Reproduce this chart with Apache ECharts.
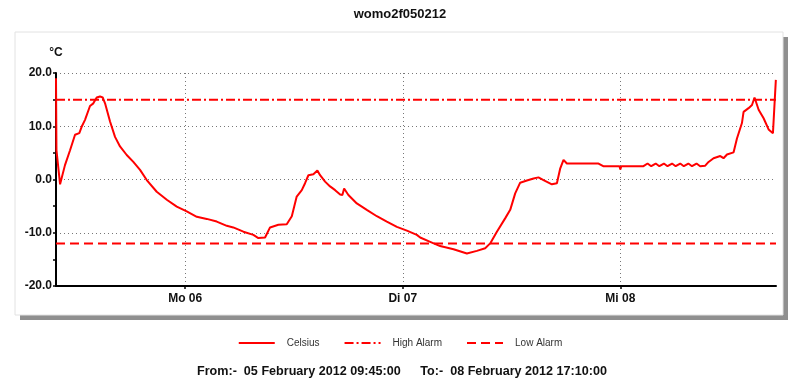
<!DOCTYPE html>
<html>
<head>
<meta charset="utf-8">
<script src="https://cdn.jsdelivr.net/npm/echarts@6/dist/echarts.min.js"></script>
<style>html,body{margin:0;padding:0;background:#fff;}#c{width:800px;height:392px;}</style>
</head>
<body>
<div id="c"></div>
<script>
// hours since 2012-02-05 00:00
var startHour = 9.75;   // 05 Feb 09:45
var endHour = 89.1667;  // 08 Feb 17:10
var dayTicks = [24, 48, 72];
var dayLabels = ['Mo 06', 'Di 07', 'Mi 08'];
var highAlarm = 15;
var lowAlarm = -12;
var celsius = [
[9.75,19.0],[9.8,5.5],[10.2,-0.9],[10.74,2.7],[11.3,5.5],[11.85,8.4],[12.32,8.7],[12.58,9.9],[12.95,11.2],[13.1,11.5],[13.5,13.8],[13.87,14.3],[14.24,15.4],[14.6,15.6],[14.9,15.4],[15.16,14.3],[15.71,10.9],[16.26,8.0],[16.81,6.2],[17.55,4.6],[18.28,3.3],[19.02,1.8],[19.76,-0.1],[20.86,-2.3],[21.97,-3.8],[23.07,-5.1],[24.17,-6.0],[25.28,-7.0],[26.38,-7.4],[27.48,-7.9],[28.59,-8.7],[29.3,-9.0],[30.42,-9.8],[31.52,-10.4],[32.07,-11.0],[32.81,-10.9],[33.36,-9.0],[34.28,-8.5],[35.2,-8.4],[35.76,-6.9],[36.3,-3.2],[36.86,-2.0],[37.22,-0.7],[37.59,0.8],[38.14,1.0],[38.58,1.7],[38.88,0.8],[39.43,-0.4],[39.98,-1.3],[40.54,-2.0],[41.09,-2.8],[41.34,-2.9],[41.53,-1.7],[42.0,-2.9],[42.93,-4.5],[44.03,-5.7],[45.14,-6.9],[46.24,-7.9],[47.35,-8.9],[48.45,-9.6],[49.55,-10.4],[49.92,-10.9],[51.02,-11.7],[52.12,-12.5],[53.6,-13.1],[55.07,-13.9],[56.17,-13.4],[57.09,-12.9],[57.64,-12.0],[58.38,-9.8],[59.29,-7.3],[59.85,-5.7],[60.4,-2.6],[60.95,-0.6],[61.69,-0.2],[62.43,0.2],[62.97,0.4],[63.52,-0.1],[64.45,-0.9],[65.0,-0.7],[65.37,2.1],[65.73,3.7],[66.1,3.0],[69.59,3.0],[70.11,2.5],[71.9,2.5],[72.0,1.9],[72.1,2.5],[74.55,2.5],[75.0,3.0],[75.4,2.5],[75.9,3.0],[76.3,2.5],[76.8,3.0],[77.2,2.5],[77.7,3.0],[78.1,2.5],[78.6,3.0],[79.0,2.5],[79.5,3.0],[79.9,2.5],[80.4,3.0],[80.8,2.5],[81.36,2.6],[81.73,3.3],[82.28,4.0],[83.02,4.4],[83.38,4.0],[83.76,4.7],[84.49,5.1],[84.86,7.7],[85.41,10.6],[85.59,12.7],[86.14,13.4],[86.52,14.0],[86.8,15.4],[87.25,13.1],[87.8,11.5],[88.35,9.4],[88.83,8.7],[89.05,8.5],[89.15,18.7]
];
var titleText = 'womo2f050212';
var fromText = 'From:-  05 February 2012 09:45:00';
var toText = 'To:-  08 February 2012 17:10:00';

var chart = echarts.init(document.getElementById('c'), null, {renderer: 'canvas'});
var FONT = 'Liberation Sans, Arial, sans-serif';
chart.setOption({
  animation: false,
  backgroundColor: '#fff',
  title: {
    text: titleText, left: 'center', top: 3,
    textStyle: {fontFamily: FONT, fontSize: 13, fontWeight: 'bold', color: '#111'}
  },
  graphic: [
    {type: 'rect', z: -10, shape: {x: 20, y: 37, width: 768, height: 283}, style: {fill: '#8f8f8f'}, silent: true},
    {type: 'rect', z: -9, shape: {x: 15, y: 32, width: 768, height: 283}, style: {fill: '#fff', stroke: '#e2e2e2', lineWidth: 1}, silent: true},
    {type: 'text', left: 197, top: 365, style: {text: fromText, font: 'bold 12.6px ' + FONT, fill: '#111'}},
    {type: 'text', right: 193, top: 365, style: {text: toText, font: 'bold 12.6px ' + FONT, fill: '#111'}}
  ],
  legend: {
    left: 'center', top: 333,
    itemWidth: 36, itemHeight: 10, itemGap: 24,
    itemStyle: {opacity: 0},
    textStyle: {fontFamily: FONT, fontSize: 10, color: '#333', padding: [0, 0, 0, 7]},
    data: ['Celsius', 'High Alarm', 'Low Alarm']
  },
  grid: {left: 56, right: 24, top: 73, bottom: 106, containLabel: false},
  xAxis: {
    type: 'value', min: startHour, max: endHour,
    axisLine: {onZero: false, lineStyle: {color: '#000', width: 2}},
    axisTick: {show: true, customValues: dayTicks, length: 3, lineStyle: {color: '#000', width: 1.5}},
    axisLabel: {
      customValues: dayTicks, margin: 7,
      formatter: function (v) { return dayLabels[dayTicks.indexOf(v)] || ''; },
      fontFamily: FONT, fontSize: 12, fontWeight: 'bold', color: '#111'
    },
    splitLine: {show: true, lineStyle: {color: '#777', type: [1, 3], width: 1}}
  },
  yAxis: {
    type: 'value', min: -20, max: 20, interval: 10,
    name: '°C', nameLocation: 'end', nameGap: 14,
    nameTextStyle: {fontFamily: FONT, fontSize: 12, fontWeight: 'bold', color: '#111', align: 'center'},
    axisLine: {show: true, onZero: false, lineStyle: {color: '#000', width: 2}},
    axisTick: {show: true, length: 3, lineStyle: {color: '#000', width: 1.5}},
    minorTick: {show: true, splitNumber: 2, length: 3, lineStyle: {color: '#000', width: 1.5}},
    axisLabel: {
      margin: 4, formatter: function (v) { return v.toFixed(1); },
      fontFamily: FONT, fontSize: 12, fontWeight: 'bold', color: '#111'
    },
    splitLine: {show: true, lineStyle: {color: '#777', type: [1, 3], width: 1}}
  },
  series: [
    {
      name: 'Celsius', type: 'line', data: celsius, symbol: 'none', smooth: false,
      lineStyle: {color: '#ff0000', width: 2}, itemStyle: {color: '#ff0000'}, z: 5
    },
    {
      name: 'High Alarm', type: 'line', data: [[startHour, highAlarm], [endHour, highAlarm]], symbol: 'none',
      lineStyle: {color: '#ff0000', width: 2, type: [9, 3, 2, 3]}, itemStyle: {color: '#ff0000'}, z: 4
    },
    {
      name: 'Low Alarm', type: 'line', data: [[startHour, lowAlarm], [endHour, lowAlarm]], symbol: 'none',
      lineStyle: {color: '#ff0000', width: 2, type: [9, 5]}, itemStyle: {color: '#ff0000'}, z: 4
    }
  ]
});
</script>
</body>
</html>
